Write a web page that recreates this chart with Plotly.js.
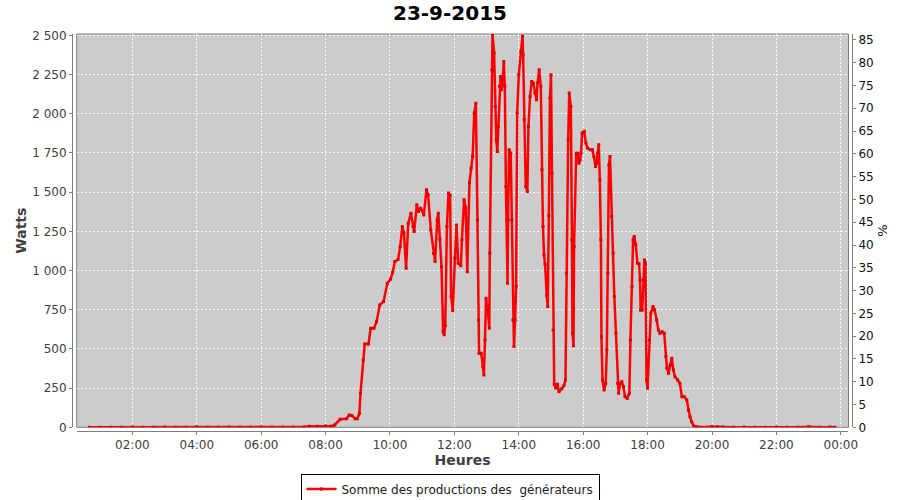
<!DOCTYPE html>
<html>
<head>
<meta charset="utf-8">
<script src="https://cdn.plot.ly/plotly-3.0.1.min.js"></script>
<style>
html,body{margin:0;padding:0;background:#ffffff;}
#chart{width:900px;height:500px;}
</style>
</head>
<body>
<div id="chart"></div>
<script>
const DAY = '2015-09-23';
const chartTitle = '23-9-2015';
const xTitle = 'Heures';
const yTitle = 'Watts';
const y2Title = '%';
const seriesName = 'Somme des productions des\u00a0 g\u00e9n\u00e9rateurs';

const leftTicks = [0, 250, 500, 750, 1000, 1250, 1500, 1750, 2000, 2250, 2500];
const rightTicks = [0, 5, 10, 15, 20, 25, 30, 35, 40, 45, 50, 55, 60, 65, 70, 75, 80, 85];

const nightTimes = ['00:40','01:00','01:20','01:40','02:00','02:20','02:40','03:00','03:20','03:40','04:00','04:20','04:40','05:00','05:20','05:40','06:00','06:20','06:40','07:00','07:20'];
const nightWatts = [0,0,0,0,2,0,0,2,0,0,3,0,0,2,0,0,2,0,0,0,2];

const dayTimes = ['07:30','07:45','08:00','08:10','08:14','08:17','08:27','08:39','08:44','08:49','08:55','08:59',
'09:03','09:05','09:10','09:13','09:20','09:24','09:30','09:35','09:41','09:48','09:55',
'10:01','10:05','10:09','10:15','10:19','10:23','10:26','10:30','10:34','10:39','10:43','10:45','10:50','10:53','10:57',
'11:03','11:08','11:11','11:16','11:21','11:24','11:28','11:30','11:33','11:36','11:39','11:41','11:43','11:46','11:49','11:52','11:54','11:57',
'12:01','12:04','12:07','12:12','12:14','12:18','12:21','12:24','12:28','12:31','12:34','12:37','12:40','12:43','12:45','12:46','12:50','12:53','12:55','12:57','12:59',
'13:02','13:05','13:06','13:10','13:11','13:14','13:16','13:18','13:20','13:22','13:24','13:26','13:28','13:30','13:32','13:34','13:36','13:39','13:40','13:42','13:45','13:47','13:49','13:51','13:53','13:55','13:57',
'14:00','14:04','14:07','14:08','14:10','14:13','14:16','14:18','14:21','14:24','14:27','14:30','14:33','14:35','14:38','14:41','14:43','14:45','14:47','14:49','14:52','14:54','14:56','14:58',
'15:00','15:02','15:04','15:06','15:09','15:12','15:15','15:20','15:24','15:27','15:29','15:32','15:34','15:37','15:39','15:40','15:42','15:43','15:47','15:50','15:52','15:54','15:56','15:58',
'16:02','16:05','16:08','16:13','16:17','16:20','16:23','16:25','16:27','16:29','16:31','16:33','16:34','16:36','16:39','16:42','16:44','16:46','16:48','16:50','16:53','16:56','16:58',
'17:01','17:04','17:06','17:09','17:12','17:15','17:18','17:22','17:26','17:28','17:31','17:33','17:35','17:38','17:41','17:44','17:46','17:47','17:50','17:52','17:54','17:56','17:58',
'18:00','18:03','18:06','18:10','18:13','18:17','18:20','18:23','18:27','18:31','18:34','18:36','18:39','18:42','18:45','18:48','18:51','18:56',
'19:00','19:04','19:08','19:13','19:16','19:19','19:22','19:26','19:32'];
const dayWatts = [6,6,8,6,8,15,51,55,78,76,55,55,
89,217,430,532,532,632,632,674,781,802,919,
945,987,1057,1070,1153,1281,1239,1015,1302,1366,1281,1249,1419,1377,1398,
1355,1515,1483,1260,1111,1057,1323,1366,1200,1025,610,590,650,1281,1494,1480,834,745,
1080,1290,1047,1030,1196,1451,1400,993,1560,1653,1728,2005,2068,1323,685,472,472,387,334,557,824,
749,632,1111,2281,2505,2388,2047,1834,1760,1919,2175,2238,2153,2217,2334,2175,1536,919,1323,1770,1749,1323,685,515,685,898,2005,
2249,2398,2494,2377,1962,1536,1504,1919,2111,2206,2196,2132,2089,2196,2281,2175,1643,1281,1100,1040,840,770,1350,2100,
2249,1621,621,275,250,275,227,246,265,302,983,1834,2132,2047,1196,600,520,1153,1749,1749,1685,1706,1749,1877,
1887,1813,1781,1770,1770,1728,1664,1685,1749,1802,1579,1196,578,302,238,281,493,983,1675,1728,1345,1111,834,
600,281,217,281,291,259,195,185,217,557,898,1196,1217,1164,1047,1043,940,749,749,940,1068,1047,302,
249,557,728,770,749,685,621,600,610,600,451,377,345,398,441,366,323,302,
281,195,195,174,110,68,36,8,3];

const eveningTimes = ['19:40','20:00','20:10','20:20','20:40','21:00','21:20','21:40','22:00','22:20','22:40','23:00','23:20','23:40','23:49'];
const eveningWatts = [0,3,4,2,0,2,0,0,2,0,0,3,0,2,0];

const allTimes = nightTimes.concat(dayTimes, eveningTimes).map(t => DAY + ' ' + t);
const allWatts = nightWatts.concat(dayWatts, eveningWatts);

const FONT = 'DejaVu Sans, Liberation Sans, sans-serif';
const GRAY = '#808080';
const LABEL = '#404040';

const traces = [
  {
    type: 'scatter',
    mode: 'lines+markers',
    x: allTimes,
    y: allWatts,
    name: seriesName,
    line: {color: '#ff0000', width: 2.5},
    marker: {color: '#e00000', size: 3, symbol: 'square'},
    xaxis: 'x', yaxis: 'y'
  },
  {
    type: 'scatter', mode: 'lines', x: [allTimes[0]], y: [null],
    xaxis: 'x', yaxis: 'y2', showlegend: false, hoverinfo: 'skip'
  }
];

const layout = {
  width: 900, height: 500,
  paper_bgcolor: '#ffffff',
  plot_bgcolor: '#cccccc',
  separators: ', ',
  font: {family: FONT, size: 12, color: LABEL},
  margin: {l: 72, r: 48, t: 34, b: 69, pad: 0},
  title: {
    text: chartTitle,
    x: 0.5, xref: 'container', xanchor: 'center',
    y: 0.974, yref: 'container', yanchor: 'middle',
    font: {family: FONT, size: 20, weight: 'bold', color: '#000000'}
  },
  xaxis: {
    type: 'date',
    domain: [0.006, 0.9955],
    anchor: 'free', position: 0,
    range: [DAY + ' 00:16:12', '2015-09-24 00:14:20'],
    tick0: DAY + ' 00:00', dtick: 7200000,
    tickformat: '%H:%M',
    showline: true, linecolor: GRAY, linewidth: 1,
    ticks: 'outside', ticklen: 3, tickcolor: GRAY,
    showgrid: true, gridcolor: 'rgba(255,255,255,0.85)', gridwidth: 1, griddash: '2px,2px',
    zeroline: false,
    tickfont: {family: FONT, size: 12, color: LABEL},
    title: {text: xTitle, standoff: 3, font: {family: FONT, size: 14, weight: 'bold', color: LABEL}}
  },
  yaxis: {
    domain: [0.0093, 1],
    anchor: 'free', position: 0,
    range: [0, 2509],
    tickvals: leftTicks,
    tickformat: ',d',
    showline: true, linecolor: GRAY, linewidth: 1,
    ticks: 'outside', ticklen: 3, tickcolor: GRAY,
    showgrid: true, gridcolor: 'rgba(255,255,255,0.85)', gridwidth: 1, griddash: '2px,2px',
    zeroline: false,
    tickfont: {family: FONT, size: 12, color: LABEL},
    title: {text: yTitle, standoff: 1, font: {family: FONT, size: 14, weight: 'bold', color: LABEL}}
  },
  yaxis2: {
    overlaying: 'y', side: 'right',
    anchor: 'free', position: 1,
    range: [0, 86.3],
    tickvals: rightTicks,
    showline: true, linecolor: GRAY, linewidth: 1,
    ticks: 'outside', ticklen: 3, tickcolor: GRAY,
    showgrid: false, zeroline: false,
    tickfont: {family: FONT, size: 12, color: '#111111'},
    title: {text: y2Title, standoff: 5, font: {family: FONT, size: 13, color: '#111111'}}
  },
  showlegend: true,
  legend: {
    orientation: 'h',
    xref: 'container', yref: 'container',
    x: 0.5, xanchor: 'center',
    y: 0.022, yanchor: 'middle',
    bordercolor: '#000000', borderwidth: 1,
    bgcolor: '#ffffff',
    font: {family: FONT, size: 12, color: '#222222'},
    itemwidth: 30
  },
  shapes: [
    {type: 'rect', xref: 'x domain', yref: 'y domain', x0: 0, x1: 1, y0: 0, y1: 1,
     line: {color: GRAY, width: 1}, fillcolor: 'rgba(0,0,0,0)', layer: 'below'}
  ]
};

Plotly.newPlot('chart', traces, layout, {displayModeBar: false, staticPlot: true});
</script>
</body>
</html>
